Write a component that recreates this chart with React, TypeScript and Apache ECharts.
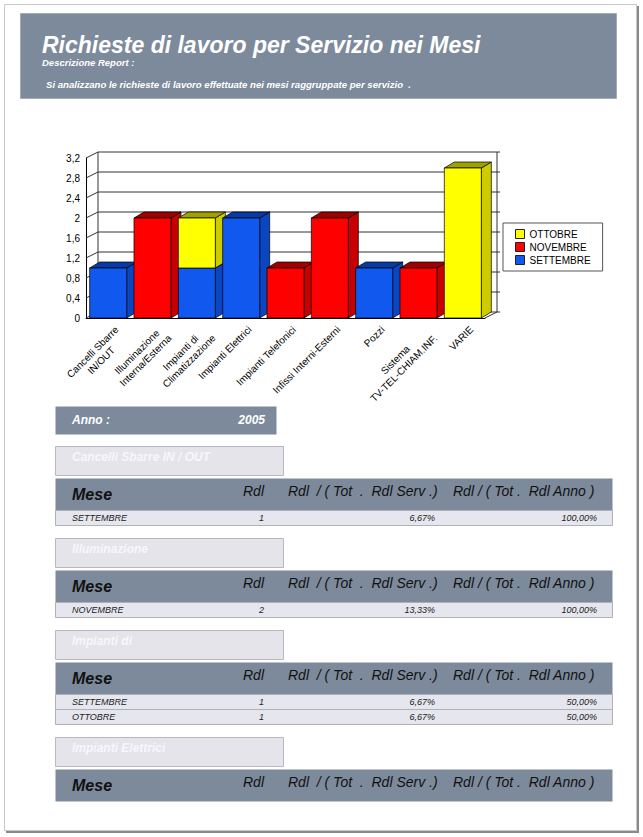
import React, { useEffect, useRef } from 'react';
import * as echarts from 'echarts';

// ---------- DATA ----------
const categories = [
  'Cancelli Sbarre\nIN/OUT',
  'Illuminazione\nInterna/Esterna',
  'Impianti di\nClimatizzazione',
  'Impianti Elettrici',
  'Impianti Telefonici',
  'Infissi Interni-Esterni',
  'Pozzi',
  'Sistema\nTV-TEL-CHIAM.INF.',
  'VARIE',
];
const settembre = [1, 0, 1, 2, 0, 0, 1, 0, 0];
const novembre = [0, 2, 0, 0, 1, 2, 0, 1, 0];
const ottobre = [0, 0, 1, 0, 0, 0, 0, 0, 3];
const yTicks = [0, 0.4, 0.8, 1.2, 1.6, 2, 2.4, 2.8, 3.2];
const legendOrder = ['OTTOBRE', 'NOVEMBRE', 'SETTEMBRE'];

const reportTitle = 'Richieste di lavoro per Servizio nei Mesi';
const reportSubtitle = 'Descrizione Report :';
const reportDescription = 'Si analizzano le richieste di lavoro effettuate nei mesi raggruppate per servizio  .';
const annoLabel = 'Anno :';
const annoValue = '2005';
const tableHeaders = ['Mese', 'Rdl', 'Rdl  / ( Tot  .  Rdl Serv .)', 'Rdl / ( Tot .  Rdl Anno )'];
const tableServices = ['Cancelli Sbarre IN / OUT', 'Illuminazione', 'Impianti di', 'Impianti Elettrici'];
const tableMonths = [['SETTEMBRE'], ['NOVEMBRE'], ['SETTEMBRE', 'OTTOBRE'], []];
const tableRdl = [[1], [2], [1, 1], []];
const tableServPct = [['6,67%'], ['13,33%'], ['6,67%', '6,67%'], []];
const tableYearPct = [['100,00%'], ['100,00%'], ['50,00%', '50,00%'], []];

// ---------- STYLE ----------
const FONT = '"Liberation Sans", Arial, sans-serif';
const SLATE = '#7d8a9b';
const DX = 10;
const DY = 6;
const BACK_DX = 12;
const BACK_DY = 6;

const colSett = { front: '#1058ee', side: '#0a45c2', top: '#083aa6' };
const colNov = { front: '#ff0000', side: '#c80000', top: '#a00000' };
const colOtt = { front: '#ffff00', side: '#cccc00', top: '#a0a000' };

function measure(s: string, font: string): number {
  const c = document.createElement('canvas').getContext('2d');
  if (!c) return s.length * 6;
  c.font = font;
  return c.measureText(s).width;
}

function barRender(colors: any, level: number) {
  return (params: any, api: any) => {
    const i = api.value(0);
    const b = api.value(1);
    const t = api.value(2);
    const pTop = api.coord([i, t]);
    const pBot = api.coord([i, b]);
    const w = api.size([1, 0])[0] * 0.835;
    const x0 = pTop[0] - w / 2;
    const x1 = pTop[0] + w / 2;
    const yT = pTop[1];
    const yB = pBot[1];
    const stroke = 'rgba(0,0,0,0.7)';
    const z2 = i * 10 + level * 3;
    return {
      type: 'group',
      children: [
        {
          type: 'polygon', z2,
          shape: { points: [[x1, yB], [x1 + DX, yB - DY], [x1 + DX, yT - DY], [x1, yT]] },
          style: { fill: colors.side, stroke, lineWidth: 1 },
        },
        {
          type: 'polygon', z2: z2 + 1,
          shape: { points: [[x0, yT], [x0 + DX, yT - DY], [x1 + DX, yT - DY], [x1, yT]] },
          style: { fill: colors.top, stroke, lineWidth: 1 },
        },
        {
          type: 'rect', z2: z2 + 2,
          shape: { x: x0, y: yT, width: w, height: yB - yT },
          style: { fill: colors.front, stroke, lineWidth: 1 },
        },
      ],
    };
  };
}

function wallRender(params: any, api: any) {
  const cs = params.coordSys;
  const y = api.coord([0, api.value(1)])[1];
  const x0 = cs.x;
  const x1 = cs.x + cs.width;
  const stroke = '#333';
  const children: any[] = [
    {
      type: 'polyline',
      shape: { points: [[x0, y], [x0 + BACK_DX, y - BACK_DY], [x1 + BACK_DX, y - BACK_DY]] },
      style: { stroke, lineWidth: 1, fill: null },
    },
    {
      type: 'line',
      shape: { x1: x1 + BACK_DX, y1: y - BACK_DY, x2: x1 + BACK_DX + 3, y2: y - BACK_DY },
      style: { stroke, lineWidth: 1 },
    },
  ];
  if (params.dataIndex === 0) {
    const top = cs.y;
    const bot = cs.y + cs.height;
    children.push(
      { type: 'line', shape: { x1: x0 + BACK_DX, y1: top - BACK_DY, x2: x0 + BACK_DX, y2: bot - BACK_DY }, style: { stroke, lineWidth: 1 } },
      { type: 'line', shape: { x1: x1 + BACK_DX, y1: top - BACK_DY, x2: x1 + BACK_DX, y2: bot - BACK_DY }, style: { stroke, lineWidth: 1 } },
      { type: 'line', shape: { x1: x1, y1: bot, x2: x1 + BACK_DX, y2: bot - BACK_DY }, style: { stroke, lineWidth: 1 } },
    );
  }
  return { type: 'group', children };
}

function buildGraphics(): any[] {
  const els: any[] = [];
  const txt = (x: number, y: number, text: string, o: any) => ({
    type: 'text', x, y, z: 5,
    style: {
      text, fontFamily: FONT, fontSize: o.size, fontWeight: o.weight || 'normal',
      fontStyle: o.italic === false ? 'normal' : 'italic', fill: o.fill || '#000',
      align: o.align || 'left', verticalAlign: 'middle',
    },
  });
  const rect = (x: number, y: number, w: number, h: number, fill: string, stroke?: string) => ({
    type: 'rect', z: 1,
    shape: { x, y, width: w, height: h },
    style: { fill, stroke: stroke || null, lineWidth: 1 },
  });

  // page frame
  els.push({ type: 'rect', z: 0, shape: { x: 4.5, y: 4.5, width: 632, height: 826 }, style: { fill: null, stroke: '#c8c8c8', lineWidth: 1 } });
  els.push({ type: 'line', z: 0, shape: { x1: 638, y1: 6, x2: 638, y2: 833 }, style: { stroke: '#8a8a8a', lineWidth: 2 } });
  els.push({ type: 'line', z: 0, shape: { x1: 6, y1: 832, x2: 639, y2: 832 }, style: { stroke: '#8a8a8a', lineWidth: 2 } });

  // header
  els.push(rect(20.5, 13.5, 596, 85, SLATE, '#a4acb8'));
  els.push(txt(42, 44.5, reportTitle, { size: 23, weight: 'bold', fill: '#ffffff' }));
  els.push(txt(42, 62, reportSubtitle, { size: 9.5, weight: 'bold', fill: '#ffffff' }));
  els.push(txt(46, 84, reportDescription, { size: 9.6, weight: 'bold', fill: '#ffffff' }));

  // anno
  els.push(rect(55.5, 406.5, 221, 28, SLATE));
  els.push(txt(72, 420, annoLabel, { size: 12, weight: 'bold', fill: '#ffffff' }));
  els.push(txt(265, 420, annoValue, { size: 12, weight: 'bold', fill: '#ffffff', align: 'right' }));

  let y = 446;
  tableServices.forEach((svc, k) => {
    els.push(rect(55.5, y + 0.5, 228, 29, '#e4e4ea', '#b8b8c0'));
    els.push(txt(72, y + 11, svc, { size: 12, weight: 'bold', fill: '#f7f7fa' }));
    y += 32;
    els.push(rect(55.5, y + 0.5, 557, 32, SLATE));
    els.push(txt(72, y + 16, tableHeaders[0], { size: 16, weight: 'bold', fill: '#111' }));
    els.push(txt(264, y + 13, tableHeaders[1], { size: 14, fill: '#111', align: 'right' }));
    els.push(txt(288, y + 13, tableHeaders[2], { size: 14, fill: '#111' }));
    els.push(txt(453, y + 13, tableHeaders[3], { size: 14, fill: '#111' }));
    y += 32;
    tableMonths[k].forEach((m, r) => {
      els.push(rect(55.5, y + 0.5, 557, 15, '#e6e6ee', '#b0b0b8'));
      els.push(txt(72, y + 8, m, { size: 9, fill: '#222' }));
      els.push(txt(264, y + 8, String(tableRdl[k][r]), { size: 9, fill: '#222', align: 'right' }));
      els.push(txt(435, y + 8, tableServPct[k][r], { size: 9, fill: '#222', align: 'right' }));
      els.push(txt(597, y + 8, tableYearPct[k][r], { size: 9, fill: '#222', align: 'right' }));
      y += 15;
    });
    y += 13;
  });
  return els;
}

export default function App() {
  const ref = useRef<HTMLDivElement>(null);
  useEffect(() => {
    if (!ref.current) return;
    const chart = echarts.init(ref.current, null, { renderer: 'svg' });

    const labelFont = `10px ${FONT}`;
    const rich: any = {};
    categories.forEach((c, i) => {
      const w = Math.max(...c.split('\n').map((l) => measure(l, labelFont)));
      rich['c' + i] = { width: Math.ceil(w) + 1, align: 'center', fontSize: 10, fontFamily: FONT, color: '#000', lineHeight: 12 };
    });

    const mk = (vals: number[], bases: number[]) =>
      vals.map((v, i) => [i, bases[i], bases[i] + v]).filter((d) => d[2] > d[1]);
    const zeros = categories.map(() => 0);
    const novBase = settembre.slice();
    const ottBase = settembre.map((v, i) => v + novembre[i]);

    const option: any = {
      animation: false,
      textStyle: { fontFamily: FONT },
      grid: [
        { left: 86, top: 158, width: 399, height: 160 },
        { left: 91, top: 158, width: 399, height: 160 },
      ],
      xAxis: [
        {
          type: 'category', gridIndex: 0, data: categories,
          axisLine: { show: true, lineStyle: { color: '#000', width: 1 } },
          axisTick: { show: false }, axisLabel: { show: false }, splitLine: { show: false },
        },
        {
          type: 'category', gridIndex: 1, data: categories,
          axisLine: { show: false }, axisTick: { show: false }, splitLine: { show: false },
          axisLabel: {
            interval: 0, rotate: 45, margin: 5, align: 'right', verticalAlign: 'top',
            formatter: (v: string, idx: number) => v.split('\n').map((l) => `{c${idx}|${l}}`).join('\n'),
            rich,
          },
        },
      ],
      yAxis: [
        {
          type: 'value', gridIndex: 0, min: 0, max: 3.2, interval: 0.4,
          axisLine: { show: true, lineStyle: { color: '#000', width: 1 } },
          axisTick: { show: false }, splitLine: { show: false },
          axisLabel: {
            margin: 6, fontSize: 10, color: '#000', fontFamily: FONT,
            formatter: (v: number) => String(Math.round(v * 10) / 10).replace('.', ','),
          },
        },
        { type: 'value', gridIndex: 1, min: 0, max: 3.2, show: false },
      ],
      legend: {
        data: legendOrder, orient: 'vertical', left: 503, top: 223,
        icon: 'rect', itemWidth: 9, itemHeight: 9, itemGap: 3,
        padding: [6, 12, 6, 12], borderColor: '#555', borderWidth: 1, backgroundColor: '#fff',
        textStyle: { fontSize: 10, color: '#000', fontFamily: FONT },
        itemStyle: { borderColor: '#222', borderWidth: 1 },
      },
      series: [
        {
          type: 'custom', name: 'wall', z: 1, renderItem: wallRender,
          data: yTicks.map((v) => [0, v]), encode: { x: 0, y: 1 }, silent: true,
        },
        {
          type: 'custom', name: 'SETTEMBRE', z: 2, renderItem: barRender(colSett, 0),
          data: mk(settembre, zeros), encode: { x: 0, y: [1, 2] },
          itemStyle: { color: colSett.front, borderColor: '#222', borderWidth: 1 },
        },
        {
          type: 'custom', name: 'NOVEMBRE', z: 2, renderItem: barRender(colNov, 1),
          data: mk(novembre, novBase), encode: { x: 0, y: [1, 2] },
          itemStyle: { color: colNov.front, borderColor: '#222', borderWidth: 1 },
        },
        {
          type: 'custom', name: 'OTTOBRE', z: 2, renderItem: barRender(colOtt, 2),
          data: mk(ottobre, ottBase), encode: { x: 0, y: [1, 2] },
          itemStyle: { color: colOtt.front, borderColor: '#222', borderWidth: 1 },
        },
      ],
      graphic: { elements: buildGraphics() },
    };
    chart.setOption(option);
    return () => chart.dispose();
  }, []);

  return (
    <div
      ref={ref}
      style={{ position: 'absolute', left: 0, top: 0, width: 643, height: 837, background: '#fff' }}
    />
  );
}
